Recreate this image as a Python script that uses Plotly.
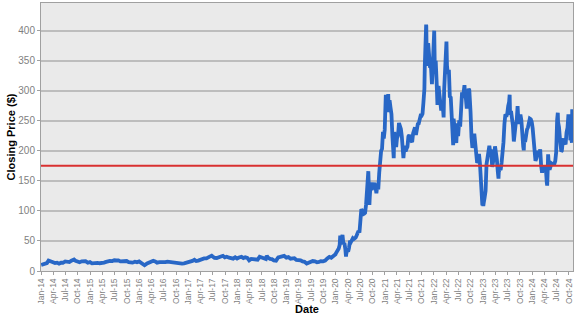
import plotly.graph_objects as go

# ---- Data (split-adjusted closing prices) ----
dates_2014_2019 = [
    "2014-01-02", "2014-01-15", "2014-01-31", "2014-02-14", "2014-02-26", "2014-03-14", "2014-03-31",
    "2014-04-15", "2014-04-30", "2014-05-15", "2014-05-30", "2014-06-13", "2014-06-30", "2014-07-15",
    "2014-07-31", "2014-08-15", "2014-08-29", "2014-09-04", "2014-09-15", "2014-09-30", "2014-10-15",
    "2014-10-31", "2014-11-14", "2014-11-28", "2014-12-15", "2014-12-31",
    "2015-01-15", "2015-01-30", "2015-02-13", "2015-02-27", "2015-03-13", "2015-03-31", "2015-04-15",
    "2015-04-30", "2015-05-15", "2015-05-29", "2015-06-15", "2015-06-30", "2015-07-15", "2015-07-31",
    "2015-08-14", "2015-08-31", "2015-09-15", "2015-09-30", "2015-10-15", "2015-10-30", "2015-11-13",
    "2015-11-30", "2015-12-15", "2015-12-31",
    "2016-01-15", "2016-01-29", "2016-02-10", "2016-02-29", "2016-03-15", "2016-03-31", "2016-04-15",
    "2016-04-29", "2016-05-13", "2016-05-31", "2016-06-15", "2016-06-30", "2016-07-15", "2016-07-29",
    "2016-08-15", "2016-08-31", "2016-09-15", "2016-09-30", "2016-10-14", "2016-10-31", "2016-11-15",
    "2016-11-30", "2016-12-15", "2016-12-30",
    "2017-01-13", "2017-01-31", "2017-02-15", "2017-02-28", "2017-03-15", "2017-03-31", "2017-04-14",
    "2017-04-28", "2017-05-15", "2017-05-31", "2017-06-23", "2017-06-30", "2017-07-14", "2017-07-31",
    "2017-08-15", "2017-08-31", "2017-09-15", "2017-09-29", "2017-10-13", "2017-10-31", "2017-11-15",
    "2017-11-30", "2017-12-15", "2017-12-29",
    "2018-01-12", "2018-01-31", "2018-02-14", "2018-02-28", "2018-03-15", "2018-03-29", "2018-04-13",
    "2018-04-30", "2018-05-15", "2018-05-31", "2018-06-15", "2018-06-29", "2018-07-13", "2018-07-31",
    "2018-08-07", "2018-08-15", "2018-08-31", "2018-09-14", "2018-09-28", "2018-10-15", "2018-10-31",
    "2018-11-15", "2018-11-30", "2018-12-14", "2018-12-31",
    "2019-01-15", "2019-01-31", "2019-02-15", "2019-02-28", "2019-03-15", "2019-03-29", "2019-04-15",
    "2019-04-30", "2019-05-15", "2019-05-31", "2019-06-14", "2019-06-28", "2019-07-15", "2019-07-31",
    "2019-08-15", "2019-08-30", "2019-09-13", "2019-09-30", "2019-10-15", "2019-10-31", "2019-11-15",
    "2019-11-29", "2019-12-13", "2019-12-31",
]
prices_2014_2019 = [
    10.0, 11.3, 12.1, 13.2, 17.3, 15.6, 13.9,
    13.2, 13.9, 12.1, 13.8, 13.7, 16.0, 15.0,
    14.9, 17.2, 18.0, 19.1, 16.9, 16.2, 14.6,
    16.1, 16.5, 16.3, 13.8, 14.8,
    12.8, 13.6, 13.6, 13.5, 12.9, 12.6, 13.9,
    15.1, 16.5, 16.7, 16.6, 17.9, 17.5, 17.7,
    16.1, 16.6, 16.9, 16.6, 14.8, 13.8, 13.9,
    15.4, 14.7, 16.0,
    13.6, 12.7, 9.6, 12.7, 14.5, 15.3, 16.9,
    16.0, 13.9, 14.9, 14.5, 14.2, 14.7, 15.6,
    15.0, 14.1, 13.7, 13.6, 13.0, 13.2, 12.4,
    12.6, 13.4, 14.2,
    15.2, 16.8, 18.6, 16.7, 17.3, 18.6, 20.2,
    20.9, 21.0, 22.7, 25.5, 24.1, 21.9, 21.7,
    23.0, 23.6, 25.3, 22.7, 23.7, 22.1, 20.7,
    20.6, 22.9, 20.8,
    22.4, 23.6, 21.6, 22.9, 21.8, 17.7, 20.0,
    19.6, 18.9, 18.9, 23.8, 22.9, 21.2, 19.9,
    25.3, 22.5, 20.1, 19.7, 17.6, 17.2, 22.5,
    23.0, 23.4, 25.1, 22.2,
    23.1, 20.5, 20.5, 21.3, 18.4, 18.7, 17.8,
    15.9, 15.4, 12.3, 14.2, 14.9, 16.6, 16.1,
    14.6, 15.0, 16.5, 16.1, 17.2, 21.0, 23.5,
    22.0, 23.9, 27.9,
]

dates_2020_2021 = [
    "2020-01-03", "2020-01-10", "2020-01-17", "2020-01-24", "2020-01-31", "2020-02-04", "2020-02-07",
    "2020-02-14", "2020-02-21", "2020-02-28", "2020-03-06", "2020-03-13", "2020-03-18", "2020-03-20",
    "2020-03-27", "2020-04-03", "2020-04-09", "2020-04-17", "2020-04-24", "2020-04-30", "2020-05-08",
    "2020-05-15", "2020-05-22", "2020-05-29", "2020-06-05", "2020-06-12", "2020-06-19", "2020-06-26",
    "2020-07-02", "2020-07-10", "2020-07-17", "2020-07-24", "2020-07-31", "2020-08-07", "2020-08-14",
    "2020-08-21", "2020-08-28", "2020-08-31", "2020-09-04", "2020-09-08", "2020-09-11", "2020-09-18",
    "2020-09-25", "2020-10-02", "2020-10-09", "2020-10-16", "2020-10-23", "2020-10-30", "2020-11-06",
    "2020-11-13", "2020-11-20", "2020-11-27", "2020-12-04", "2020-12-11", "2020-12-18", "2020-12-24",
    "2020-12-31",
    "2021-01-08", "2021-01-15", "2021-01-22", "2021-01-26", "2021-01-29", "2021-02-05", "2021-02-12",
    "2021-02-19", "2021-02-26", "2021-03-05", "2021-03-08", "2021-03-12", "2021-03-19", "2021-03-26",
    "2021-04-01", "2021-04-09", "2021-04-16", "2021-04-23", "2021-04-30", "2021-05-07", "2021-05-14",
    "2021-05-19", "2021-05-21", "2021-05-28", "2021-06-04", "2021-06-11", "2021-06-18", "2021-06-25",
    "2021-07-02", "2021-07-09", "2021-07-16", "2021-07-23", "2021-07-30", "2021-08-06", "2021-08-13",
    "2021-08-20", "2021-08-27", "2021-09-03", "2021-09-10", "2021-09-17", "2021-09-24", "2021-10-01",
    "2021-10-08", "2021-10-15", "2021-10-22", "2021-10-25", "2021-10-29", "2021-11-04", "2021-11-05",
    "2021-11-09", "2021-11-10", "2021-11-12", "2021-11-16", "2021-11-19", "2021-11-26", "2021-12-03",
    "2021-12-10", "2021-12-17", "2021-12-22", "2021-12-23", "2021-12-31",
]
prices_2020_2021 = [
    29.5, 31.9, 34.0, 37.6, 43.4, 59.1, 49.9,
    53.5, 60.1, 44.5, 47.0, 36.4, 24.1, 28.5,
    34.3, 32.1, 38.2, 50.1, 48.3, 52.1, 54.6,
    53.3, 54.5, 55.7, 59.0, 62.4, 66.8, 64.0,
    80.6, 103.0, 100.1, 94.5, 95.4, 96.8, 110.0,
    136.7, 147.6, 166.1, 139.4, 110.1, 124.2, 147.3,
    135.4, 138.4, 144.7, 146.7, 140.1, 129.3, 143.3,
    136.0, 163.2, 195.3, 199.7, 203.3, 231.7, 220.6,
    235.2,
    293.3, 275.4, 282.0, 294.4, 264.5, 284.0, 272.0,
    260.9, 225.2, 199.3, 187.7, 231.2, 218.3, 206.2,
    220.6, 225.7, 246.3, 243.0, 236.5, 224.1, 196.6,
    187.8, 193.4, 208.4, 199.3, 203.4, 206.9, 224.0,
    226.3, 219.0, 214.7, 214.5, 229.1, 233.6, 239.0,
    226.5, 236.9, 244.7, 245.5, 253.3, 258.6, 258.4,
    261.8, 281.2, 303.2, 341.6, 371.3, 410.0, 407.4,
    341.2, 355.7, 344.5, 351.6, 379.0, 360.6, 338.3,
    339.7, 310.9, 334.3, 342.0, 352.3,
]

dates_2022_2024 = [
    "2022-01-03", "2022-01-07", "2022-01-14", "2022-01-21", "2022-01-27", "2022-01-28", "2022-02-04",
    "2022-02-11", "2022-02-18", "2022-02-24", "2022-02-25", "2022-03-04", "2022-03-11", "2022-03-14",
    "2022-03-18", "2022-03-25", "2022-04-01", "2022-04-04", "2022-04-08", "2022-04-14", "2022-04-22",
    "2022-04-26", "2022-04-29", "2022-05-06", "2022-05-13", "2022-05-20", "2022-05-24", "2022-05-27",
    "2022-06-03", "2022-06-10", "2022-06-16", "2022-06-17", "2022-06-24", "2022-06-30", "2022-07-08",
    "2022-07-15", "2022-07-22", "2022-07-29", "2022-08-05", "2022-08-12", "2022-08-16", "2022-08-19",
    "2022-08-26", "2022-09-02", "2022-09-09", "2022-09-16", "2022-09-21", "2022-09-23", "2022-09-30",
    "2022-10-07", "2022-10-14", "2022-10-21", "2022-10-24", "2022-10-28", "2022-11-04", "2022-11-10",
    "2022-11-11", "2022-11-18", "2022-11-25", "2022-12-02", "2022-12-09", "2022-12-16", "2022-12-23",
    "2022-12-27", "2022-12-30",
    "2023-01-03", "2023-01-06", "2023-01-13", "2023-01-20", "2023-01-27", "2023-02-03", "2023-02-10",
    "2023-02-16", "2023-02-17", "2023-02-24", "2023-03-03", "2023-03-10", "2023-03-17", "2023-03-24",
    "2023-03-31", "2023-04-07", "2023-04-14", "2023-04-21", "2023-04-26", "2023-04-28", "2023-05-05",
    "2023-05-12", "2023-05-19", "2023-05-26", "2023-06-02", "2023-06-09", "2023-06-16", "2023-06-21",
    "2023-06-23", "2023-06-30", "2023-07-07", "2023-07-14", "2023-07-18", "2023-07-21", "2023-07-28",
    "2023-08-04", "2023-08-11", "2023-08-18", "2023-08-25", "2023-09-01", "2023-09-08", "2023-09-15",
    "2023-09-22", "2023-09-29", "2023-10-06", "2023-10-13", "2023-10-20", "2023-10-27", "2023-10-31",
    "2023-11-03", "2023-11-10", "2023-11-17", "2023-11-24", "2023-12-01", "2023-12-08", "2023-12-15",
    "2023-12-22", "2023-12-29",
    "2024-01-05", "2024-01-12", "2024-01-19", "2024-01-26", "2024-02-02", "2024-02-09", "2024-02-16",
    "2024-02-23", "2024-03-01", "2024-03-08", "2024-03-15", "2024-03-22", "2024-03-28", "2024-04-05",
    "2024-04-12", "2024-04-19", "2024-04-22", "2024-04-26", "2024-04-29", "2024-05-03", "2024-05-10",
    "2024-05-17", "2024-05-24", "2024-05-31", "2024-06-07", "2024-06-14", "2024-06-21", "2024-06-28",
    "2024-07-05", "2024-07-10", "2024-07-12", "2024-07-19", "2024-07-26", "2024-08-02", "2024-08-05",
    "2024-08-09", "2024-08-16", "2024-08-23", "2024-08-30", "2024-09-06", "2024-09-13", "2024-09-20",
    "2024-09-27", "2024-10-04", "2024-10-10", "2024-10-11", "2024-10-18", "2024-10-23", "2024-10-24",
    "2024-10-25",
]
prices_2022_2024 = [
    399.9, 342.3, 349.9, 314.6, 276.4, 282.1, 307.8,
    286.7, 285.7, 266.9, 270.0, 279.0, 265.1, 255.5,
    301.8, 336.9, 361.5, 381.8, 341.8, 328.3, 335.0,
    292.1, 290.3, 288.6, 256.5, 221.3, 209.4, 253.3,
    234.5, 232.2, 213.1, 216.8, 245.7, 224.5, 250.8,
    240.1, 272.2, 297.1, 288.2, 300.0, 309.3, 296.7,
    288.1, 270.2, 299.7, 303.4, 300.8, 275.3, 265.3,
    223.1, 205.0, 214.4, 211.3, 228.5, 207.5, 191.3,
    196.0, 180.2, 182.9, 194.9, 179.1, 150.2, 123.2,
    109.1, 123.2,
    108.1, 113.1, 122.4, 133.4, 177.9, 190.0, 196.9,
    202.0, 208.3, 196.9, 197.8, 173.4, 180.1, 190.4,
    207.5, 185.0, 185.0, 165.1, 153.8, 164.3, 170.1,
    168.0, 180.1, 193.2, 214.0, 244.4, 260.5, 259.5,
    256.6, 261.8, 274.4, 281.4, 293.3, 260.0, 266.4,
    253.9, 242.7, 215.5, 238.6, 245.0, 248.5, 274.4,
    244.9, 250.2, 260.5, 251.1, 212.0, 207.3, 200.8,
    220.0, 214.7, 234.3, 235.5, 238.8, 243.8, 253.5,
    252.5, 248.5,
    237.5, 218.9, 212.2, 183.3, 187.9, 193.6, 200.0,
    192.0, 202.6, 175.3, 163.6, 170.8, 175.8, 164.9,
    171.1, 147.1, 142.1, 168.3, 194.1, 181.2, 168.5,
    177.5, 179.2, 178.1, 177.5, 178.0, 183.0, 197.9,
    251.5, 263.3, 248.2, 239.2, 219.8, 207.7, 198.9,
    200.0, 216.1, 220.3, 214.1, 210.7, 230.3, 238.3,
    260.5, 250.1, 238.8, 217.8, 220.7, 213.7, 260.5,
    269.2,
]

reference_price = 175
y_ticks = [0, 50, 100, 150, 200, 250, 300, 350, 400]
y_max = 446
x_start, x_end = "2014-01-01", "2024-10-31"

dates = dates_2014_2019 + dates_2020_2021 + dates_2022_2024
prices = prices_2014_2019 + prices_2020_2021 + prices_2022_2024

FONT = "Arial, Liberation Sans, sans-serif"
GRAY_TXT = "#7f7f7f"

fig = go.Figure()
fig.add_trace(go.Scatter(
    x=dates, y=prices, mode="lines",
    line=dict(color="#2867C6", width=3.8),
    showlegend=False, hoverinfo="x+y",
))
fig.add_hline(y=reference_price, line_color="#D93030", line_width=2)

fig.update_layout(
    width=577, height=315,
    margin=dict(l=41, r=4, t=3, b=44),
    paper_bgcolor="white",
    plot_bgcolor="#EAEAEA",
    font=dict(family=FONT, color=GRAY_TXT),
    xaxis=dict(
        type="date", range=[x_start, x_end], automargin=False,
        tick0="2014-01-01", dtick="M3", tickformat="%b-%y",
        tickangle=-90, tickfont=dict(size=8.5, color=GRAY_TXT),
        showgrid=False, showline=True, linecolor="#A0A0A0", linewidth=1, mirror=True,
        ticks="outside", ticklen=3, tickcolor="#A0A0A0",
        title=dict(text="<b>Date</b>", font=dict(size=11, color="black"), standoff=2),
    ),
    yaxis=dict(
        range=[0, y_max], tickvals=y_ticks, automargin=False,
        tickfont=dict(size=10, color=GRAY_TXT),
        showgrid=True, gridcolor="#BDBDBD", gridwidth=1.5, zeroline=False,
        showline=True, linecolor="#A0A0A0", linewidth=1, mirror=True,
        ticks="outside", ticklen=3, tickcolor="#A0A0A0",
        title=dict(text="<b>Closing Price ($)</b>", font=dict(size=11, color="black"), standoff=0),
    ),
)

fig.write_html("out.html")
